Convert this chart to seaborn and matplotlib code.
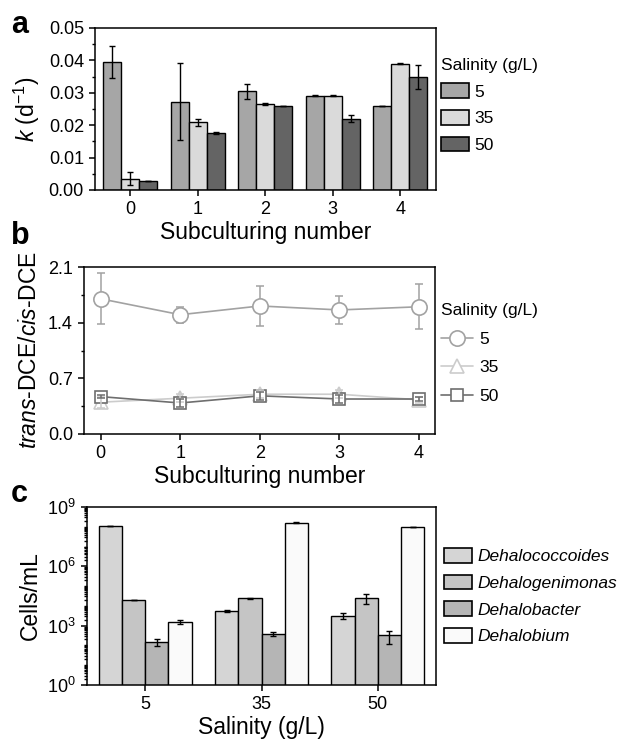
import numpy as np
import pandas as pd
import matplotlib
matplotlib.use("Agg")
from matplotlib import pyplot as plt
from matplotlib.ticker import MultipleLocator, FixedLocator, LogLocator, NullFormatter
from matplotlib.lines import Line2D
from matplotlib.patches import Patch
import seaborn as sns

# panel a: first-order rate constants
subculture = [0, 1, 2, 3, 4]
salinity_levels = ["5", "35", "50"]
k_5 = [0.0395, 0.0273, 0.0305, 0.0291, 0.0260]
k_5_err = [0.0048, 0.0120, 0.0023, 0.0002, 0.0]
k_35 = [0.0035, 0.0209, 0.0265, 0.0291, 0.0390]
k_35_err = [0.0020, 0.0010, 0.0003, 0.0002, 0.0002]
k_50 = [0.0028, 0.0175, 0.0260, 0.0220, 0.0349]
k_50_err = [0.0, 0.0003, 0.0, 0.0011, 0.0037]

# panel b: trans-DCE / cis-DCE ratio
ratio_5 = [1.70, 1.50, 1.61, 1.56, 1.60]
ratio_5_err = [0.32, 0.10, 0.25, 0.18, 0.28]
ratio_35 = [0.40, 0.45, 0.50, 0.50, 0.43]
ratio_35_err = [0.07, 0.05, 0.05, 0.05, 0.04]
ratio_50 = [0.47, 0.39, 0.48, 0.44, 0.44]
ratio_50_err = [0.02, 0.05, 0.05, 0.05, 0.03]

# panel c: cell abundance
salinity_c = ["5", "35", "50"]
genera = ["Dehalococcoides", "Dehalogenimonas", "Dehalobacter", "Dehalobium"]
dhc = [1.1e8, 5.6e3, 3.2e3]
dhc_err = [4e6, 500, 1100]
dhgm = [2.0e4, 2.4e4, 2.6e4]
dhgm_err = [500, 2500, 14000]
dhb = [150, 380, 340]
dhb_err = [60, 80, 215]
dhbium = [1.5e3, 1.6e8, 9.5e7]
dhbium_err = [350, 8e6, 3e6]

sns.set_style("ticks")
plt.rcParams["font.family"] = ["Liberation Sans", "DejaVu Sans"]
plt.rcParams["mathtext.fontset"] = "custom"
plt.rcParams["mathtext.rm"] = "Liberation Sans"
plt.rcParams["mathtext.it"] = "Liberation Sans:italic"
plt.rcParams["mathtext.bf"] = "Liberation Sans:bold"
plt.rcParams["text.color"] = "black"
plt.rcParams["axes.labelcolor"] = "black"
plt.rcParams["axes.edgecolor"] = "black"
plt.rcParams["axes.linewidth"] = 1.1
plt.rcParams["xtick.color"] = "black"
plt.rcParams["ytick.color"] = "black"
plt.rcParams["xtick.labelcolor"] = "black"
plt.rcParams["ytick.labelcolor"] = "black"
plt.rcParams["xtick.major.width"] = 1.1
plt.rcParams["ytick.major.width"] = 1.1
plt.rcParams["ytick.minor.width"] = 1.0
plt.rcParams["xtick.major.size"] = 4.5
plt.rcParams["ytick.major.size"] = 4.5
plt.rcParams["ytick.minor.size"] = 2.5

fig = plt.figure(figsize=(6.22, 7.42), dpi=100)
W, H = 622, 742


def rect(l, t, r, b):
    return [l / W, 1 - b / H, (r - l) / W, (b - t) / H]


ax_a = fig.add_axes(rect(95, 28, 436, 190))
ax_b = fig.add_axes(rect(84, 267, 435, 434))
ax_c = fig.add_axes(rect(87, 507, 436, 685))

tick_fs = 13
label_fs = 16.5
leg_fs = 12.5

# ---- panel a
df_a = pd.DataFrame({
    "sub": subculture * 3,
    "k": k_5 + k_35 + k_50,
    "salinity": ["5"] * 5 + ["35"] * 5 + ["50"] * 5,
})
pal_a = {"5": "#a6a6a6", "35": "#dadada", "50": "#646464"}
sns.barplot(data=df_a, x="sub", y="k", hue="salinity", hue_order=salinity_levels,
            palette=pal_a, edgecolor="black", linewidth=1.0, errorbar=None,
            width=0.8, gap=0, saturation=1, ax=ax_a, legend=False)
for cont, errs in zip(ax_a.containers, [k_5_err, k_35_err, k_50_err]):
    xs = [b.get_x() + b.get_width() / 2 for b in cont]
    ys = [b.get_height() for b in cont]
    ax_a.errorbar(xs, ys, yerr=errs, fmt="none", ecolor="black", elinewidth=1,
                  capsize=2.5, capthick=1, zorder=5)
ax_a.set_xlim(-0.52, 4.53)
ax_a.set_ylim(0, 0.05)
ax_a.yaxis.set_major_locator(MultipleLocator(0.01))
ax_a.yaxis.set_minor_locator(MultipleLocator(0.005))
ax_a.yaxis.set_major_formatter(matplotlib.ticker.FormatStrFormatter("%.2f"))
ax_a.set_xlabel("Subculturing number", fontsize=label_fs, labelpad=2)
ax_a.set_ylabel(r"$k$ (d$^{-1}$)", fontsize=label_fs, labelpad=5)
ax_a.tick_params(labelsize=tick_fs)
handles_a = [Patch(facecolor=pal_a[s], edgecolor="black", linewidth=1.2, label=s)
             for s in salinity_levels]
ax_a.legend(handles=handles_a, title="Salinity (g/L)", loc="upper left",
            bbox_to_anchor=(441 / W, 1 - 58 / H), bbox_transform=fig.transFigure,
            frameon=False, fontsize=leg_fs, title_fontsize=leg_fs, alignment="left",
            handlelength=1.6, handleheight=0.92, labelspacing=0.6, handletextpad=0.3,
            borderpad=0, borderaxespad=0)

# ---- panel b
df_b = pd.DataFrame({
    "sub": subculture * 3,
    "ratio": ratio_5 + ratio_35 + ratio_50,
    "salinity": ["5"] * 5 + ["35"] * 5 + ["50"] * 5,
})
pal_b = {"5": "#a2a2a2", "35": "#cccccc", "50": "#6e6e6e"}
marks = {"5": "o", "35": "^", "50": "s"}
msizes = {"5": 11, "35": 9.5, "50": 8.5}
sns.lineplot(data=df_b, x="sub", y="ratio", hue="salinity", style="salinity",
             hue_order=salinity_levels, style_order=salinity_levels,
             palette=pal_b, markers=marks, dashes=False, errorbar=None,
             linewidth=1.2, ax=ax_b, legend=False)
for line, s in zip(ax_b.lines, salinity_levels):
    line.set_markerfacecolor("white")
    line.set_markeredgecolor(pal_b[s])
    line.set_markeredgewidth(1.2)
    line.set_markersize(msizes[s])
for s, vals, errs, z in zip(salinity_levels, [ratio_5, ratio_35, ratio_50],
                            [ratio_5_err, ratio_35_err, ratio_50_err], [1, 3, 4]):
    ax_b.errorbar(subculture, vals, yerr=errs, fmt="none", ecolor=pal_b[s],
                  elinewidth=1.1, capsize=3, capthick=1.1, zorder=z)
ax_b.set_xlim(-0.21, 4.2)
ax_b.set_ylim(0, 2.1)
ax_b.xaxis.set_major_locator(FixedLocator(subculture))
ax_b.yaxis.set_major_locator(MultipleLocator(0.7))
ax_b.yaxis.set_minor_locator(MultipleLocator(0.35))
ax_b.yaxis.set_major_formatter(matplotlib.ticker.FormatStrFormatter("%.1f"))
ax_b.set_xlabel("Subculturing number", fontsize=label_fs, labelpad=2)
ax_b.set_ylabel(r"$trans$-DCE/$cis$-DCE", fontsize=label_fs, labelpad=5)
ax_b.tick_params(labelsize=tick_fs)
handles_b = [Line2D([], [], color=pal_b[s], marker=marks[s], mfc="white",
                    mec=pal_b[s], mew=1.2, markersize=msizes[s], linewidth=1.2, label=s)
             for s in salinity_levels]
ax_b.legend(handles=handles_b, title="Salinity (g/L)", loc="upper left",
            bbox_to_anchor=(441 / W, 1 - 303 / H), bbox_transform=fig.transFigure,
            frameon=False, fontsize=leg_fs, title_fontsize=leg_fs, alignment="left",
            handlelength=1.85, labelspacing=0.78, handletextpad=0.35, numpoints=1,
            borderpad=0, borderaxespad=0)

# ---- panel c
df_c = pd.DataFrame({
    "salinity": salinity_c * 4,
    "cells": dhc + dhgm + dhb + dhbium,
    "genus": [g for g in genera for _ in salinity_c],
})
pal_c = {"Dehalococcoides": "#d5d5d5", "Dehalogenimonas": "#c5c5c5",
         "Dehalobacter": "#b5b5b5", "Dehalobium": "#fafafa"}
ax_c.set_yscale("log")
sns.barplot(data=df_c, x="salinity", y="cells", hue="genus", hue_order=genera,
            order=salinity_c, palette=pal_c, edgecolor="black", linewidth=1.0,
            errorbar=None, width=0.8, gap=0, saturation=1, ax=ax_c, legend=False)
for cont, errs in zip(ax_c.containers, [dhc_err, dhgm_err, dhb_err, dhbium_err]):
    xs = [b.get_x() + b.get_width() / 2 for b in cont]
    ys = [b.get_y() + b.get_height() for b in cont]
    ax_c.errorbar(xs, ys, yerr=errs, fmt="none", ecolor="black", elinewidth=1,
                  capsize=2.5, capthick=1, zorder=5)
ax_c.set_xlim(-0.5, 2.5)
ax_c.set_ylim(1, 1e9)
ax_c.yaxis.set_major_locator(FixedLocator([1, 1e3, 1e6, 1e9]))
ax_c.yaxis.set_major_formatter(matplotlib.ticker.LogFormatterSciNotation())
ax_c.yaxis.set_minor_locator(LogLocator(base=10, subs=np.arange(1, 10), numticks=100))
ax_c.yaxis.set_minor_formatter(NullFormatter())
ax_c.set_xlabel("Salinity (g/L)", fontsize=label_fs, labelpad=2)
ax_c.set_ylabel("Cells/mL", fontsize=label_fs, labelpad=4)
ax_c.tick_params(labelsize=tick_fs)
handles_c = [Patch(facecolor=pal_c[g], edgecolor="black", linewidth=1.2, label=g)
             for g in genera]
ax_c.legend(handles=handles_c, loc="upper left",
            bbox_to_anchor=(444 / W, 1 - 548 / H), bbox_transform=fig.transFigure,
            frameon=False, prop={"size": leg_fs, "style": "italic"},
            handlelength=1.6, handleheight=0.92, labelspacing=0.6, handletextpad=0.3,
            borderpad=0, borderaxespad=0)

# panel letters
for letter, ypix in [("a", 33), ("b", 244), ("c", 502)]:
    fig.text(11 / W, 1 - ypix / H, letter, fontsize=22, fontweight="bold",
             ha="left", va="baseline")

fig.savefig("out.png", dpi=100)
